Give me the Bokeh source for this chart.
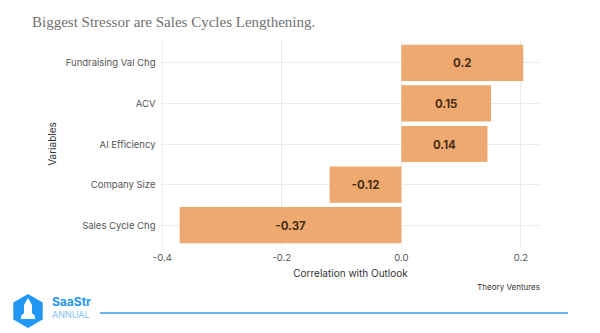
import math
from bokeh.plotting import figure
from bokeh.layouts import column
from bokeh.models import Range1d, FixedTicker, PrintfTickFormatter, ColumnDataSource, Div
from bokeh.core.properties import value
from bokeh.embed import file_html
from bokeh.resources import INLINE

# Data (top to bottom)
variables = ["Fundraising Val Chg", "ACV", "AI Efficiency", "Company Size", "Sales Cycle Chg"]
correlations = [0.204, 0.15, 0.144, -0.12, -0.371]
x_ticks = [-0.4, -0.2, 0.0, 0.2]
title_text = "Biggest Stressor are Sales Cycles Lengthening."
source_text = "Theory Ventures"

n = len(variables)
ypos = [n - 1 - i for i in range(n)]
labels = [str(round(v, 2)) for v in correlations]

FONT = "Inter"
BAR = "#EDA96F"
BLUE = "#2196F3"
NOPAD = {"margin": "0", "padding": "0", "overflow": "visible"}


def st(family, size, color, weight="normal", extra=""):
    return (f'style="font-family:{family};font-size:{size};fill:{color};'
            f'font-weight:{weight};{extra}"')

# ---- header ----
head = Div(width=600, height=40, styles=NOPAD, text=(
    '<svg width="600" height="40" xmlns="http://www.w3.org/2000/svg" style="display:block">'
    f'<text x="32" y="27" {st(chr(39) + "Liberation Serif" + chr(39) + ",serif", "15px", "#707070")}>'
    f'{title_text}</text></svg>'))

# ---- main chart ----
p = figure(width=600, height=243, output_backend="svg", toolbar_location=None,
           x_range=Range1d(-0.403, 0.2328), y_range=Range1d(-0.55, n - 0.45),
           min_border_left=160, min_border_right=60, min_border_top=0, min_border_bottom=36)
p.outline_line_color = None

src = ColumnDataSource(dict(y=ypos, v=correlations, mid=[c / 2 for c in correlations], lab=labels))
p.hbar(y="y", left=0, right="v", height=0.89, source=src, fill_color=BAR, line_color=None)
p.text(x="mid", y="y", text="lab", source=src, text_align="center", text_baseline="middle",
       text_font=value(FONT), text_font_size="11.5px", text_font_style="bold",
       text_color="#4a2e16")

p.xaxis.ticker = FixedTicker(ticks=x_ticks)
p.xaxis.formatter = PrintfTickFormatter(format="%.1f")
p.yaxis.ticker = FixedTicker(ticks=ypos)
p.yaxis.major_label_overrides = {ypos[i]: variables[i] for i in range(n)}
for ax in (p.xaxis[0], p.yaxis[0]):
    ax.axis_line_color = None
    ax.major_tick_line_color = None
    ax.minor_tick_line_color = None
    ax.major_tick_out = 0
    ax.major_tick_in = 0
    ax.minor_tick_out = 0
    ax.major_label_text_font = FONT
    ax.major_label_text_font_size = "9.5px"
    ax.major_label_text_color = "#555555"
    ax.axis_label_text_font = FONT
    ax.axis_label_text_font_size = "10px"
    ax.axis_label_text_font_style = "normal"
    ax.axis_label_text_color = "#333333"
p.xaxis.axis_label = "Correlation with Outlook"
p.yaxis.axis_label = "Variables"
p.xaxis.major_label_standoff = 6
p.xaxis.axis_label_standoff = 3
p.yaxis.major_label_standoff = 5
p.yaxis.axis_label_standoff = 5
p.xgrid.grid_line_color = "#EBEBEB"
p.ygrid.grid_line_color = "#EBEBEB"
p.xgrid.ticker = FixedTicker(ticks=x_ticks)
p.ygrid.ticker = FixedTicker(ticks=ypos)

# ---- footer (coordinates relative to footer top at canvas y=283) ----
Y0 = 283
hx, hy, r = 28, 311 - Y0, 17
hex_pts = " ".join(f"{hx + r * math.cos(math.radians(90 + 60 * k)):.1f},"
                   f"{hy - r * math.sin(math.radians(90 + 60 * k)):.1f}" for k in range(6))
rk = [(28, 298), (32, 305), (32, 313), (35, 316), (35, 319), (21, 319), (21, 316), (24, 313), (24, 305)]
rk_pts = " ".join(f"{x},{y - Y0}" for x, y in rk)
foot = Div(width=600, height=50, styles=NOPAD, text=(
    '<svg width="600" height="50" xmlns="http://www.w3.org/2000/svg" style="display:block">'
    f'<text x="540" y="{287 - Y0 + 3}" text-anchor="end" {st(FONT, "8px", "#333333")}>{source_text}</text>'
    f'<polygon points="{hex_pts}" fill="{BLUE}"/>'
    f'<polygon points="{rk_pts}" fill="white"/>'
    f'<text x="52" y="{306 - Y0}" {st(FONT, "12px", BLUE, "bold")}>SaaStr</text>'
    f'<text x="52" y="{318 - Y0}" {st(FONT, "9px", "#7fbff0")}>ANNUAL</text>'
    f'<line x1="100" y1="{313 - Y0}" x2="568" y2="{313 - Y0}" stroke="#3a9be8" stroke-width="1.5"/>'
    '</svg>'))

layout = column(head, p, foot, spacing=0)
open("out.html", "w").write(file_html(layout, INLINE))
